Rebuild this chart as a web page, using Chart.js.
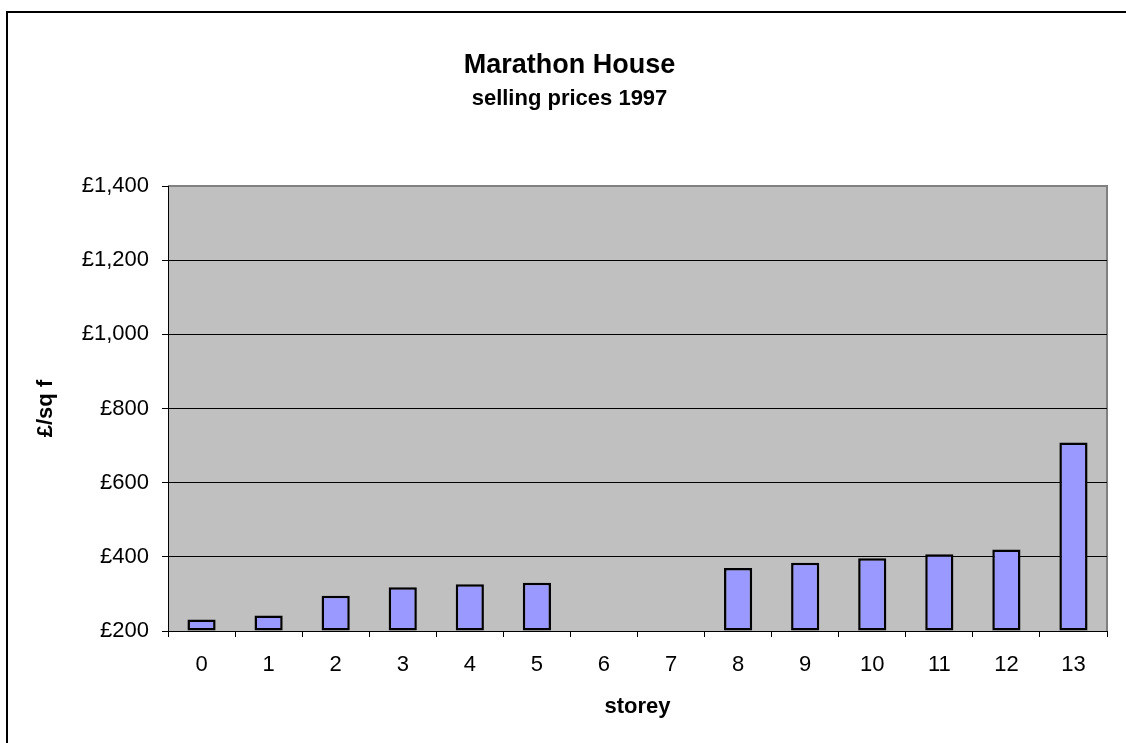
<!DOCTYPE html>
<html>
<head>
<meta charset="utf-8">
<script src="https://cdn.jsdelivr.net/npm/chart.js@4/dist/chart.umd.min.js"></script>
<style>
html,body{margin:0;padding:0;background:#ffffff;}
#wrap{width:1126px;height:743px;position:relative;}
canvas{display:block;}
</style>
</head>
<body>
<div id="wrap"><canvas id="c" width="1126" height="743"></canvas></div>
<script>
// ---- data ----
const storeys = ['0','1','2','3','4','5','6','7','8','9','10','11','12','13'];
const pricesPerSqFt = [231, 242, 295, 318, 326, 330, null, null, 370, 384, 396, 407, 420, 708];
const yTickValues = [200, 400, 600, 800, 1000, 1200, 1400];
const chartTitle = 'Marathon House';
const chartSubtitle = 'selling prices 1997';
const xAxisTitle = 'storey';
const yAxisTitle = '£/sq f';

const FONT = "'Liberation Sans', Arial, sans-serif";
Chart.defaults.color = '#000000';
Chart.defaults.font.family = FONT;

const PLOT_LEFT = 168, PLOT_RIGHT = 1107, PLOT_TOP = 186, PLOT_BOTTOM = 631;
const PAD_LEFT = 32;

const decorPlugin = {
  id: 'decor',
  beforeDraw(chart) {
    const ctx = chart.ctx;
    const a = chart.chartArea;
    ctx.save();
    ctx.fillStyle = '#ffffff';
    ctx.fillRect(0, 0, chart.width, chart.height);
    // outer frame (left and top edges visible)
    ctx.strokeStyle = '#000000';
    ctx.lineWidth = 2;
    ctx.beginPath();
    ctx.moveTo(7, chart.height + 5);
    ctx.lineTo(7, 12);
    ctx.lineTo(chart.width + 5, 12);
    ctx.stroke();
    // plot area
    ctx.fillStyle = '#c0c0c0';
    ctx.fillRect(a.left, a.top, a.right - a.left, a.bottom - a.top);
    // plot border (top and right)
    ctx.strokeStyle = '#808080';
    ctx.lineWidth = 2;
    ctx.beginPath();
    ctx.moveTo(a.left, a.top);
    ctx.lineTo(a.right, a.top);
    ctx.lineTo(a.right, a.bottom);
    ctx.stroke();
    ctx.restore();
  }
};

const fmtPound = v => '£' + Number(v).toLocaleString('en-GB');

new Chart(document.getElementById('c'), {
  type: 'bar',
  data: {
    labels: storeys,
    datasets: [{
      data: pricesPerSqFt,
      base: 200,
      backgroundColor: '#9999ff',
      borderColor: '#000000',
      borderWidth: 2.5,
      borderSkipped: false,
      categoryPercentage: 1,
      barPercentage: 0.42,
      clip: false
    }]
  },
  options: {
    responsive: false,
    devicePixelRatio: 1,
    animation: false,
    events: [],
    layout: { padding: { left: PAD_LEFT, right: 1126 - PLOT_RIGHT, top: 0, bottom: 0 } },
    plugins: {
      legend: { display: false },
      tooltip: { enabled: false },
      title: {
        display: true,
        text: chartTitle,
        color: '#000000',
        font: { family: FONT, size: 27, weight: 'bold', lineHeight: 1.2 },
        padding: { top: 49.4, bottom: 4.2 }
      },
      subtitle: {
        display: true,
        text: chartSubtitle,
        color: '#000000',
        font: { family: FONT, size: 22, weight: 'bold', lineHeight: 1.2 },
        padding: { top: 0, bottom: 73.6 }
      }
    },
    scales: {
      x: {
        grid: {
          display: true,
          drawOnChartArea: false,
          drawTicks: true,
          tickLength: 6,
          tickColor: '#000000',
          offset: true
        },
        border: { display: true, color: '#000000', width: 1 },
        ticks: {
          color: '#000000',
          font: { family: FONT, size: 22 },
          padding: 15,
          maxRotation: 0,
          autoSkip: false
        },
        title: {
          display: true,
          text: xAxisTitle,
          color: '#000000',
          font: { family: FONT, size: 22, weight: 'bold', lineHeight: 1.2 },
          padding: { top: 13.6, bottom: 23 }
        },
        afterFit(scale) { scale.height = 743 - PLOT_BOTTOM; }
      },
      y: {
        min: 200,
        max: 1400,
        afterBuildTicks(scale) { scale.ticks = yTickValues.map(v => ({ value: v })); },
        grid: {
          color: ctx => (ctx.tick && ctx.tick.value === 1400) ? 'rgba(0,0,0,0)' : '#000000',
          lineWidth: 1,
          tickLength: 6,
          tickColor: '#000000',
          drawTicks: true
        },
        border: { display: true, color: '#000000', width: 1 },
        ticks: {
          color: '#000000',
          font: { family: FONT, size: 22 },
          padding: 13,
          callback: v => fmtPound(v)
        },
        title: {
          display: true,
          text: yAxisTitle,
          color: '#000000',
          font: { family: FONT, size: 22, weight: 'bold', lineHeight: 1.2 },
          padding: { top: 1, bottom: 0 }
        },
        afterFit(scale) { scale.width = PLOT_LEFT - PAD_LEFT; }
      }
    }
  },
  plugins: [decorPlugin]
});
</script>
</body>
</html>
